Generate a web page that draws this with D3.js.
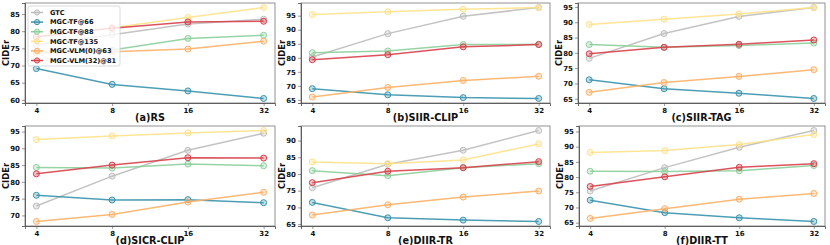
<!DOCTYPE html>
<html>
<head>
<meta charset="utf-8">
<script src="https://cdn.jsdelivr.net/npm/d3@7"></script>
<style>
  body { margin: 0; background: #fff; }
  svg text { font-family: "DejaVu Sans", sans-serif; font-weight: bold; fill: #111; }
</style>
</head>
<body>
<div id="c"></div>
<script>
"use strict";

// data
const steps = ["4", "8", "16", "32"]
const seriesNames = ["GTC", "MGC-TF@66", "MGC-TF@88", "MGC-TF@135", "MGC-VLM(0)@63", "MGC-VLM(32)@81"]
const seriesColors = ["#bdbdbd", "#3a93ad", "#8ccf9b", "#fde28a", "#fdb066", "#d8404b"]

const panelTitles = ["(a)RS", "(b)SIIR-CLIP", "(c)SIIR-TAG", "(d)SICR-CLIP", "(e)DIIR-TR", "(f)DIIR-TT"]

const rsValues = [
    [76.0, 79.0, 82.1, 83.5],
    [69.1, 64.5, 62.6, 60.4],
    [74.0, 74.5, 77.9, 78.8],
    [78.5, 81.0, 84.0, 86.9],
    [73.6, 74.0, 74.8, 77.1],
    [78.3, 80.9, 82.7, 82.9]
]
const siirClipValues = [
    [80.3, 88.6, 94.8, 97.9],
    [69.0, 66.8, 65.8, 65.5],
    [81.8, 82.4, 84.7, 84.8],
    [95.4, 96.4, 97.3, 97.9],
    [66.0, 69.4, 71.9, 73.4],
    [79.3, 81.1, 83.9, 84.7]
]
const siirTagValues = [
    [78.2, 86.3, 91.9, 94.8],
    [71.2, 68.3, 66.8, 65.1],
    [82.7, 81.8, 82.4, 83.2],
    [89.3, 91.0, 92.7, 94.8],
    [67.1, 70.3, 72.3, 74.5],
    [79.7, 81.8, 82.8, 84.2]
]
const sicrClipValues = [
    [72.8, 81.7, 89.4, 94.5],
    [76.0, 74.6, 74.7, 73.8],
    [84.3, 84.1, 85.3, 84.8],
    [92.6, 93.7, 94.6, 95.3],
    [68.2, 70.3, 74.0, 76.9],
    [82.4, 85.0, 87.2, 87.1]
]
const diirTrValues = [
    [75.9, 82.9, 87.1, 93.0],
    [71.5, 66.9, 66.2, 65.8],
    [81.0, 79.5, 81.9, 83.1],
    [83.6, 83.1, 84.2, 89.0],
    [67.7, 70.8, 73.1, 74.9],
    [77.4, 80.8, 81.9, 83.7]
]
const diirTtValues = [
    [75.4, 83.1, 89.8, 95.3],
    [72.4, 68.3, 66.6, 65.4],
    [81.9, 81.8, 82.1, 83.8],
    [88.1, 88.7, 90.7, 94.0],
    [66.4, 69.6, 72.7, 74.6],
    [76.9, 80.1, 83.2, 84.4]
]
const panelValues = [rsValues, siirClipValues, siirTagValues, sicrClipValues, diirTrValues, diirTtValues]

const yTicksA = [60, 65, 70, 75, 80, 85]
const yTicksB = [65, 70, 75, 80, 85, 90, 95]
const yTicksC = [65, 70, 75, 80, 85, 90, 95]
const yTicksD = [70, 75, 80, 85, 90, 95]
const yTicksE = [65, 70, 75, 80, 85, 90]
const yTicksF = [65, 70, 75, 80, 85, 90, 95]
const panelTicks = [yTicksA, yTicksB, yTicksC, yTicksD, yTicksE, yTicksF]

// plot boxes [left, right, top, bottom]
const boxes = [
    [25, 275, 3, 103], [301, 550, 3, 103], [578, 825, 3, 103],
    [25, 275, 126, 226], [301, 550, 126, 226], [579, 825, 126, 226]
]

let svg = d3.select('#c').append('svg')
    .attr('width', 830).attr('height', 245)

panelValues.forEach((values, p) => drawPanel(p, values))
drawLegend()

function drawPanel(p, values) {
    const [x0, x1, y0, y1] = boxes[p]
    const all = values.flat()
    const lo = d3.min(all), hi = d3.max(all)
    const m = (hi - lo) * 0.05

    const xScale = d3.scalePoint().domain(steps).range([x0, x1]).padding(0.15)
    const yScale = d3.scaleLinear().domain([lo - m, hi + m]).range([y1, y0])

    let g = svg.append('g')

    // frame
    g.append('rect')
        .attr('x', x0).attr('y', y0)
        .attr('width', x1 - x0).attr('height', y1 - y0)
        .attr('fill', 'none').attr('stroke', '#777').attr('stroke-width', 0.8)

    let xAxis = g.append('g')
        .attr('transform', 'translate(0,' + y1 + ')')
        .call(d3.axisBottom(xScale).tickSize(3).tickPadding(2))
    let yAxis = g.append('g')
        .attr('transform', 'translate(' + x0 + ',0)')
        .call(d3.axisLeft(yScale).tickValues(panelTicks[p]).tickSize(3).tickPadding(2).tickFormat(d3.format('d')))
    ;[xAxis, yAxis].forEach(a => {
        a.select('.domain').attr('stroke', '#444').attr('stroke-width', 0.8)
        a.selectAll('.tick line').attr('stroke', '#555').attr('stroke-width', 0.6)
        a.selectAll('.tick text').style('font-size', '7px').attr('fill', '#111')
    })

    g.append('text')
        .text('CIDEr')
        .attr('transform', 'translate(' + (x0 - 16) + ',' + ((y0 + y1) / 2) + ') rotate(-90)')
        .style('text-anchor', 'middle')
        .style('font-size', '8.4px')

    g.append('text')
        .text(panelTitles[p])
        .attr('x', (x0 + x1) / 2)
        .attr('y', y1 + 18)
        .style('text-anchor', 'middle')
        .style('font-size', '9.7px')

    const line = d3.line()
        .x((d, i) => xScale(steps[i]))
        .y(d => yScale(d))

    values.forEach((series, s) => {
        const color = seriesColors[s]
        g.append('path')
            .datum(series)
            .attr('fill', 'none')
            .attr('stroke', color)
            .attr('stroke-width', 1.5)
            .attr('opacity', 0.9)
            .attr('d', line)
        g.append('g')
            .selectAll('circle')
            .data(series)
            .enter()
            .append('circle')
                .attr('cx', (d, i) => xScale(steps[i]))
                .attr('cy', d => yScale(d))
                .attr('r', 3)
                .attr('fill', color)
                .attr('fill-opacity', 0.3)
                .attr('stroke', color)
                .attr('stroke-width', 1)
    })
}

function drawLegend() {
    let lg = svg.append('g').attr('transform', 'translate(28,6)')
    lg.append('rect')
        .attr('x', 0).attr('y', 0)
        .attr('width', 92).attr('height', 60)
        .attr('rx', 2)
        .attr('fill', 'white').attr('fill-opacity', 0.8)
        .attr('stroke', '#d0d0d0').attr('stroke-width', 0.8)
    seriesNames.forEach((name, i) => {
        const y = 6.5 + i * 9.6
        const color = seriesColors[i]
        lg.append('line')
            .attr('x1', 3).attr('x2', 15)
            .attr('y1', y).attr('y2', y)
            .attr('stroke', color).attr('stroke-width', 1.5)
        lg.append('circle')
            .attr('cx', 9).attr('cy', y).attr('r', 2.6)
            .attr('fill', color).attr('fill-opacity', 0.3)
            .attr('stroke', color).attr('stroke-width', 1)
        lg.append('text')
            .text(name)
            .attr('x', 22).attr('y', y)
            .attr('dy', '0.35em')
            .style('font-size', '6.6px')
    })
}
</script>
</body>
</html>
